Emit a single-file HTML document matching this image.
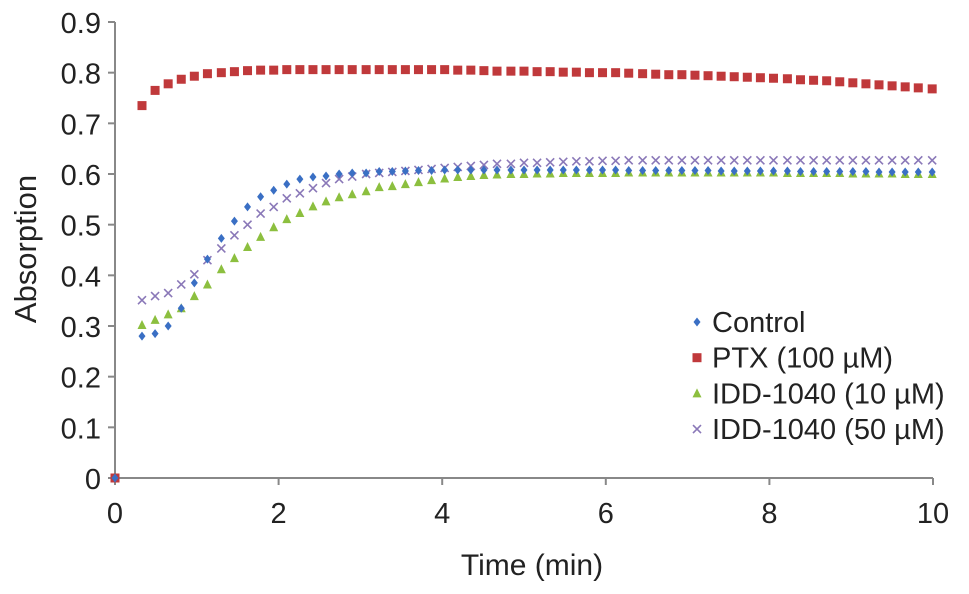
<!DOCTYPE html>
<html><head><meta charset="utf-8"><style>
body{margin:0;background:#fff;}
svg{display:block;font-family:"Liberation Sans",Arial,sans-serif;}
</style></head><body>
<svg id="chart" width="969" height="594"></svg>
<script>
const times=[0,0.33,0.49,0.65,0.81,0.97,1.13,1.30,1.46,1.62,1.78,1.94,2.10,2.26,2.42,2.58,2.74,2.90,3.07,3.23,3.39,3.55,3.71,3.87,4.03,4.19,4.35,4.51,4.67,4.84,5.00,5.16,5.32,5.48,5.64,5.80,5.96,6.12,6.28,6.45,6.61,6.77,6.93,7.09,7.25,7.41,7.57,7.73,7.89,8.05,8.22,8.38,8.54,8.70,8.86,9.02,9.18,9.34,9.50,9.66,9.82,9.99];
const control=[0,0.28,0.285,0.30,0.335,0.385,0.432,0.473,0.507,0.535,0.555,0.568,0.58,0.59,0.594,0.596,0.60,0.602,0.602,0.605,0.605,0.606,0.607,0.607,0.608,0.608,0.608,0.608,0.608,0.608,0.608,0.608,0.608,0.608,0.608,0.608,0.608,0.608,0.607,0.607,0.607,0.607,0.607,0.607,0.607,0.606,0.606,0.606,0.606,0.606,0.606,0.605,0.605,0.605,0.605,0.605,0.605,0.604,0.604,0.604,0.604,0.604];
const ptx=[0,0.735,0.765,0.778,0.787,0.793,0.798,0.800,0.802,0.804,0.805,0.805,0.806,0.806,0.806,0.806,0.806,0.806,0.806,0.806,0.806,0.806,0.806,0.806,0.806,0.805,0.805,0.804,0.803,0.803,0.803,0.802,0.802,0.801,0.801,0.800,0.800,0.800,0.799,0.798,0.797,0.796,0.796,0.795,0.794,0.793,0.792,0.791,0.790,0.789,0.788,0.786,0.785,0.784,0.782,0.780,0.778,0.776,0.774,0.772,0.770,0.768];
const idd10=[0,0.302,0.312,0.323,0.335,0.359,0.382,0.412,0.434,0.456,0.476,0.495,0.511,0.523,0.536,0.546,0.554,0.56,0.566,0.574,0.576,0.580,0.584,0.588,0.591,0.594,0.596,0.598,0.599,0.600,0.600,0.601,0.601,0.602,0.602,0.602,0.602,0.602,0.603,0.603,0.603,0.603,0.603,0.603,0.603,0.603,0.603,0.603,0.603,0.603,0.602,0.602,0.602,0.602,0.602,0.601,0.601,0.601,0.601,0.600,0.600,0.600];
const idd50=[0,0.351,0.359,0.365,0.382,0.402,0.43,0.453,0.479,0.50,0.522,0.535,0.552,0.562,0.572,0.582,0.59,0.595,0.60,0.602,0.604,0.606,0.608,0.61,0.612,0.614,0.616,0.618,0.62,0.62,0.622,0.622,0.623,0.624,0.625,0.625,0.626,0.626,0.627,0.627,0.627,0.627,0.627,0.627,0.627,0.627,0.627,0.627,0.627,0.627,0.627,0.627,0.627,0.627,0.627,0.627,0.627,0.627,0.627,0.627,0.627,0.627];
const xTicks=[0,2,4,6,8,10];
const yTicks=[0,0.1,0.2,0.3,0.4,0.5,0.6,0.7,0.8,0.9];
const NS="http://www.w3.org/2000/svg";
const svg=document.getElementById('chart');
const X0=115,X1=933,Y0=478,Y1=22;
const xs=v=>X0+(v/10)*(X1-X0);
const ys=v=>Y0-(v/0.9)*(Y0-Y1);
function mk(t,a,p){const e=document.createElementNS(NS,t);for(const k in a)e.setAttribute(k,a[k]);(p||svg).appendChild(e);return e;}
let ax=mk('line',{x1:X0,y1:Y1,x2:X0,y2:Y0,stroke:'#888','stroke-width':2});


let bx=mk('line',{x1:X0,y1:Y0,x2:X1,y2:Y0,stroke:'#888','stroke-width':2});


yTicks.forEach(v=>{
 mk('line',{x1:X0-7,x2:X0,y1:ys(v),y2:ys(v),stroke:'#888','stroke-width':2});
 const t=mk('text',{x:X0-14,y:ys(v)+11,'text-anchor':'end','font-size':29,fill:'#222'});
 t.textContent=String(v);
 
 
});
xTicks.forEach(v=>{
 mk('line',{x1:xs(v),x2:xs(v),y1:Y0,y2:Y0+7,stroke:'#888','stroke-width':2});
 const t=mk('text',{x:xs(v),y:523,'text-anchor':'middle','font-size':29,fill:'#222'});
 t.textContent=String(v);
 
 
});
let xt=mk('text',{x:532,y:575,'text-anchor':'middle','font-size':30,fill:'#222'});xt.textContent='Time (min)';


let yt=mk('text',{x:36,y:249,'text-anchor':'middle','font-size':31,fill:'#222',transform:'rotate(-90 36 249)'});yt.textContent='Absorption';


function marker(kind,x,y,g){
 if(kind==='d')mk('polygon',{points:`${x},${y-4.5} ${x+3.5},${y} ${x},${y+4.5} ${x-3.5},${y}`,fill:'#3a6fc4'},g);
 else if(kind==='s')mk('rect',{x:x-4.5,y:y-4.5,width:9,height:9,fill:'#c0393b'},g);
 else if(kind==='t')mk('polygon',{points:`${x},${y-5} ${x+4.5},${y+4} ${x-4.5},${y+4}`,fill:'#8cbf3f'},g);
 else {mk('path',{d:`M${x-4},${y-4}L${x+4},${y+4}M${x-4},${y+4}L${x+4},${y-4}`,stroke:'#8a78b8','stroke-width':1.6},g);}
}
const series=[['idd50',idd50,'x'],['idd10',idd10,'t'],['ptx',ptx,'s'],['control',control,'d']];
series.forEach(([n,arr,k])=>{
 const g=mk('g',{});
 
 
 const L=Math.min(arr.length,times.length);
 for(let i=0;i<L;i++)marker(k,xs(times[i]),ys(arr[i]),g);
});
const leg=[['Control','d'],['PTX (100 µM)','s'],['IDD-1040 (10 µM)','t'],['IDD-1040 (50 µM)','x']];
const lg=mk('g',{});


leg.forEach(([lab,k],i)=>{
 const y=322+i*35.7;
 marker(k,697,y,lg);
 const t=mk('text',{x:712,y:y+10,'font-size':29,fill:'#222'},lg);
 t.textContent=lab;
 
 
});
</script>
</body></html>
